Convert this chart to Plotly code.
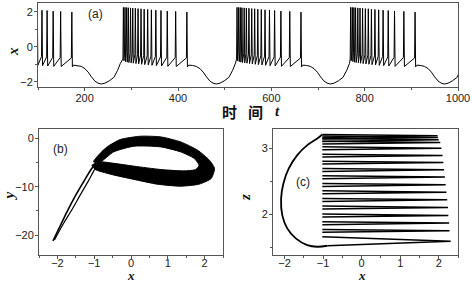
import plotly.graph_objects as go

W, H = 472, 285

# ---------------- panel (a): x(t) time series ----------------
burst_spike_times = [
    [89.5, 98.5, 108.5, 119.5, 132.5, 148.5, 172.5],
    [283, 286.4, 290, 293.5, 298.3, 303, 308.6, 314.4, 320.8, 327.5, 335, 343, 352.5, 363.5, 377, 395, 419],
    [526.5, 530, 533.5, 537, 541.8, 546.5, 552, 558, 564.3, 571, 578.5, 586.5, 596, 607, 620.5, 639.5, 663.5],
    [770, 773.5, 777, 780.5, 785.3, 790, 795.5, 801.5, 807.8, 814.5, 822, 830, 839.5, 850.5, 864, 884, 908],
]
spike_peaks = [2.25, 2.25, 2.24, 2.23, 2.22, 2.21, 2.2, 2.18, 2.17, 2.15, 2.13, 2.11, 2.09, 2.07, 2.04, 2.02, 1.98]
spike_troughs = [-0.8, -0.85, -0.88, -0.9, -0.92, -0.94, -0.96, -0.98, -1.0, -1.02, -1.04, -1.06, -1.08, -1.1, -1.12, -1.13, -1.15]
spike_onsets = [-0.7, -0.3, -0.32, -0.35, -0.38, -0.4, -0.43, -0.45, -0.48, -0.5, -0.52, -0.54, -0.56, -0.58, -0.6, -0.62, -0.64]
quiet_dt = [1.2, 4, 12, 20, 28, 35, 42, 49, 56, 63, 71, 80, 90, 98, 104]
quiet_x = [-1.15, -1.05, -1.07, -1.12, -1.25, -1.45, -1.72, -1.95, -2.08, -2.13, -2.08, -1.95, -1.75, -1.35, -0.95]

# ---------------- panel (b): x-y phase plane ----------------
b_outer_x = [-1.02, -0.85, -0.65, -0.29, 0.26, 0.81, 1.35, 1.81, 2.13, 2.27, 2.18, 1.85, 1.35, 0.71, 0.08, -0.56, -0.97, -1.06]
b_outer_y = [-4.88, -3.2, -1.79, -0.27, 0.41, 0.27, -0.76, -2.47, -4.54, -6.25, -8.3, -9.48, -9.9, -9.48, -8.5, -7.42, -6.46, -5.6]
b_inner_x = [-0.83, -0.56, 0.08, 0.81, 1.44, 1.76, 1.85, 1.72, 1.35, 0.81, 0.08, -0.47, -0.83]
b_inner_y = [-4.88, -5.09, -5.77, -6.46, -6.74, -6.46, -5.57, -4.19, -2.82, -1.79, -1.65, -2.82, -4.88]
b_branch1_x = [-2.12, -1.93, -1.74, -1.52, -1.29, -1.1, -0.95]
b_branch1_y = [-21.2, -18.2, -15.2, -12.0, -9.0, -6.6, -5.0]
b_branch2_x = [-2.08, -1.85, -1.61, -1.37, -1.15, -1.03, -0.97]
b_branch2_y = [-21.0, -17.8, -14.8, -11.6, -8.7, -7.0, -6.2]

# ---------------- panel (c): x-z phase plane ----------------
c_curve_x = [-1.02, -1.15, -1.41, -1.67, -1.89, -2.03, -2.09, -2.06, -1.93, -1.71, -1.41, -1.15, -0.89]
c_curve_z = [3.207, 3.146, 3.045, 2.894, 2.692, 2.465, 2.237, 1.985, 1.783, 1.632, 1.53, 1.505, 1.52]
c_levels = [1.657, 1.768, 1.884, 2.0, 2.121, 2.237, 2.353, 2.465, 2.581, 2.692, 2.803, 2.909, 3.02, 3.106, 3.146, 3.182, 3.207]
c_tips = [2.31, 2.28, 2.27, 2.25, 2.24, 2.22, 2.2, 2.18, 2.16, 2.14, 2.12, 2.1, 2.07, 2.04, 2.0, 1.98, 1.97]

# ---- build panel (a) polyline from read spike times / levels ----
ta, xa = [85.0], [-0.6]
for times in burst_spike_times:
    off = len(spike_peaks) - len(times)
    for k, ts in enumerate(times):
        j = off + k
        ta += [ts - 1.0, ts, ts + 1.2]
        xa += [spike_onsets[j], spike_peaks[j], spike_troughs[j]]
    last = times[-1]
    ta += [last + d for d in quiet_dt[1:]]
    xa += quiet_x[1:]

# ---- build panel (b) ring polygon ----
ring_x = b_outer_x + b_inner_x + [b_outer_x[0]]
ring_y = b_outer_y + b_inner_y + [b_outer_y[0]]

# ---- build panel (c) spike wedges ----
wx, wz = [], []
for i, (lv, tip) in enumerate(zip(c_levels, c_tips)):
    if i == 0:
        wx += [c_curve_x[-1], tip, -1.02, None]
        wz += [c_curve_z[-1], (c_curve_z[-1] + lv) / 2, lv, None]
    else:
        wx += [-1.02, tip, -1.02, None]
        wz += [lv - 0.045, lv - 0.02, lv, None]

fig = go.Figure()
fig.add_trace(go.Scatter(x=ta, y=xa, mode="lines", line=dict(color="black", width=1),
                         xaxis="x", yaxis="y", hoverinfo="skip"))
fig.add_trace(go.Scatter(x=ring_x, y=ring_y, mode="lines", fill="toself", fillcolor="black",
                         line=dict(color="black", width=1, shape="spline", smoothing=0.6),
                         xaxis="x2", yaxis="y2", hoverinfo="skip"))
fig.add_trace(go.Scatter(x=b_branch1_x, y=b_branch1_y, mode="lines",
                         line=dict(color="black", width=1.6, shape="spline"),
                         xaxis="x2", yaxis="y2", hoverinfo="skip"))
fig.add_trace(go.Scatter(x=b_branch2_x, y=b_branch2_y, mode="lines",
                         line=dict(color="black", width=1.2, shape="spline"),
                         xaxis="x2", yaxis="y2", hoverinfo="skip"))
fig.add_trace(go.Scatter(x=c_curve_x, y=c_curve_z, mode="lines",
                         line=dict(color="black", width=1.8, shape="spline"),
                         xaxis="x3", yaxis="y3", hoverinfo="skip"))
fig.add_trace(go.Scatter(x=wx, y=wz, mode="lines",
                         line=dict(color="black", width=1.5),
                         xaxis="x3", yaxis="y3", hoverinfo="skip"))

def px(v):
    return v / W

def py(v):
    return 1 - v / H

FRAME = "#555555"
TICKFONT = dict(family="Arial, Liberation Sans, sans-serif", size=11, color="#222222")

def ax(domain, rng, dtick, minor, anchor, standoff=0):
    return dict(domain=domain, range=rng, dtick=dtick, tick0=0, showline=True, mirror=True,
                linecolor=FRAME, linewidth=1, ticks="outside", ticklen=3, tickcolor=FRAME,
                tickwidth=1, showgrid=False, zeroline=False, tickfont=TICKFONT,
                anchor=anchor, fixedrange=True, automargin=False, ticklabelstandoff=standoff,
                minor=dict(dtick=minor, ticks="outside", ticklen=2, tickcolor=FRAME, showgrid=False))

serif_title = dict(family="Liberation Serif, Times New Roman, serif", size=15, color="#111111")
serif_small = dict(family="Liberation Serif, Times New Roman, serif", size=13, color="#111111")

fig.update_layout(
    width=W, height=H, margin=dict(l=0, r=0, t=0, b=0),
    paper_bgcolor="white", plot_bgcolor="white", showlegend=False,
    xaxis=ax([px(38), px(458)], [100, 1000], 200, 100, "y", -2),
    yaxis=ax([py(87), py(3)], [-2.3, 2.5], 2, 1, "x", -1),
    xaxis2=ax([px(39), px(223)], [-2.5, 2.5], 1, 0.5, "y2", -5),
    yaxis2=ax([py(255), py(129)], [-24.1, 1.9], 10, 5, "x2", -1),
    xaxis3=ax([px(273), px(458)], [-2.3, 2.5], 1, 0.5, "y3", -5),
    yaxis3=ax([py(255), py(129)], [1.38, 3.29], 1, 0.5, "x3", -1),
)

ann = []
def add(text, x, y, font, angle=0, yanchor="middle"):
    ann.append(dict(text=text, x=px(x), y=py(y), xref="paper", yref="paper",
                    showarrow=False, font=font, textangle=angle, xanchor="center", yanchor=yanchor))

add("<b><i>x</i></b>", 12.5, 51.5, serif_title, -90)
add("<b>时</b>", 229, 111, dict(family="Noto Sans CJK SC", size=15, color="#111111"))
add("<b>间</b>", 255.5, 111, dict(family="Noto Sans CJK SC", size=15, color="#111111"))
add("<b><i>t</i></b>", 277, 111, serif_title)
add("<b><i>y</i></b>", 8.5, 196, serif_title, -90)
add("<b><i>x</i></b>", 131, 285, serif_small, yanchor="bottom")
add("<b><i>z</i></b>", 245, 197, serif_title, -90)
add("<b><i>x</i></b>", 361.5, 285, serif_small, yanchor="bottom")
lab = dict(family="Arial, Liberation Sans, sans-serif", size=12, color="#222222")
add("(a)", 95, 14, lab)
add("(b)", 60, 149, lab)
add("(c)", 303, 182, lab)
fig.update_layout(annotations=ann)

fig.write_html("out.html", config={"displayModeBar": False},
               post_script="document.body.style.margin='0';document.body.style.overflow='hidden';")
